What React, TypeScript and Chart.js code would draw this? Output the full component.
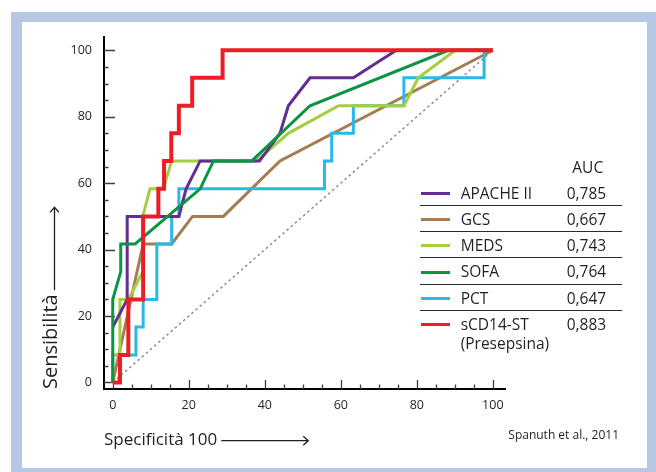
import React, { useEffect, useRef } from 'react';
import { Chart, registerables } from 'chart.js';

Chart.register(...registerables);

// ---------- data ----------
const SERIES_NAMES = ['APACHE II', 'GCS', 'MEDS', 'SOFA', 'PCT', 'sCD14-ST'];
const SERIES_SUB = ['', '', '', '', '', '(Presepsina)'];
const AUC = [0.785, 0.667, 0.743, 0.764, 0.647, 0.883];
const COLORS = ['#662d91', '#a67c52', '#a3cf3e', '#0b9444', '#29b8ea', '#ee1d25'];

const apacheX = [0, 3.8, 3.8, 17.4, 19.3, 23.0, 38.6, 44.0, 46.2, 51.9, 63.3, 74.6, 100];
const apacheY = [16.7, 25, 50, 50, 58.3, 66.7, 66.7, 75, 83.3, 91.7, 91.7, 100, 100];

const gcsX = [0, 8.0, 15.5, 21.0, 29.1, 44.0, 100];
const gcsY = [0, 41.7, 41.7, 50, 50, 66.7, 100];

const medsX = [0, 0, 1.9, 1.9, 4.1, 7.9, 7.9, 9.8, 13.3, 15.5, 37.8, 46.2, 59.4, 76.6, 80.4, 90.1, 100];
const medsY = [0, 8.3, 8.3, 25, 25, 33.3, 50, 58.3, 58.3, 66.7, 66.7, 75, 83.3, 83.3, 91.7, 100, 100];

const sofaX = [0, 0, 2.1, 2.1, 5.9, 23.0, 26.5, 36.6, 51.9, 88.3, 100];
const sofaY = [0, 25, 33.3, 41.7, 41.7, 58.3, 66.7, 66.7, 83.3, 100, 100];

const pctX = [0, 0, 6.1, 6.1, 8.0, 8.0, 11.6, 11.6, 15.5, 15.5, 17.4, 17.4, 55.7, 55.7, 57.6, 57.6, 63.3, 63.3, 76.6, 76.6, 97.7, 97.7, 100];
const pctY = [0, 8.3, 8.3, 16.7, 16.7, 25, 25, 41.7, 41.7, 50, 50, 58.3, 58.3, 66.7, 66.7, 75, 75, 83.3, 83.3, 91.7, 91.7, 100, 100];

const scdX = [0, 1.9, 1.9, 4.1, 4.1, 8.0, 8.0, 12.0, 12.0, 13.5, 13.5, 15.4, 15.4, 17.4, 17.4, 20.9, 20.9, 28.9, 28.9, 100];
const scdY = [0, 0, 8.3, 8.3, 25, 25, 50, 50, 58.3, 58.3, 66.7, 66.7, 75, 75, 83.3, 83.3, 91.7, 91.7, 100, 100];

const refX = [0, 100];
const refY = [0, 100];

const X_TICKS = [0, 20, 40, 60, 80, 100];
const Y_TICKS = [0, 20, 40, 60, 80, 100];
const MINOR_TICKS = [0, 5, 10, 15, 20, 25, 30, 35, 40, 45, 50, 55, 60, 65, 70, 75, 80, 85, 90, 95, 100];

const X_TITLE = 'Specificità 100';
const Y_TITLE = 'Sensibilità';
const AUC_TITLE = 'AUC';
const CREDIT = 'Spanuth et al., 2011';

// ---------- styles ----------
const FONT = "'Open Sans', 'Noto Sans', sans-serif";
const TEXT = '#231f20';
const W = 656;
const H = 472;
const X_TITLE_SIZE = 17;
const X_TITLE_PAD = 21.7;
const Y_TITLE_SIZE = 20;
const Y_TITLE_PAD = 39;
const SERIES_X = [apacheX, gcsX, medsX, sofaX, pctX, scdX];
const SERIES_Y = [apacheY, gcsY, medsY, sofaY, pctY, scdY];
const WIDTHS = [3, 3, 3, 3, 3, 4];
const ORDERS = [2, 5, 3, 1, 4, 0];

const zip = (xs: number[], ys: number[]) => xs.map((x, i) => ({ x, y: ys[i] }));

const axisDecor = {
  id: 'axisDecor',
  beforeDatasetsDraw(chart: any) {
    const { ctx, chartArea: a, scales } = chart;
    const x = scales.x;
    const y = scales.y;
    ctx.save();
    ctx.strokeStyle = '#3d3d3f';
    ctx.lineWidth = 1.3;
    ctx.beginPath();
    MINOR_TICKS.forEach((v) => {
      const px = Math.round(x.getPixelForValue(v)) + 0.5;
      const lx = X_TICKS.includes(v) ? 9 : 4.5;
      ctx.moveTo(px, a.bottom);
      ctx.lineTo(px, a.bottom - lx);
      const py = Math.round(y.getPixelForValue(v)) + 0.5;
      const ly = Y_TICKS.includes(v) ? 11 : 4.5;
      ctx.moveTo(a.left, py);
      ctx.lineTo(a.left + ly, py);
    });
    ctx.stroke();
    ctx.restore();
  },
  afterDraw(chart: any) {
    const { ctx, chartArea: a, scales } = chart;
    const x = scales.x;
    const y = scales.y;
    ctx.save();
    ctx.strokeStyle = TEXT;
    ctx.lineWidth = 1.3;
    // x-title arrow
    ctx.font = `${X_TITLE_SIZE}px ${FONT}`;
    const wx = ctx.measureText(X_TITLE).width;
    const ay = x.bottom - (X_TITLE_SIZE * 1.2) / 2 - X_TITLE_PAD + 0.6;
    const ax0 = a.left + wx + 4;
    const ax1 = ax0 + 87;
    ctx.beginPath();
    ctx.moveTo(ax0, ay);
    ctx.lineTo(ax1, ay);
    ctx.moveTo(ax1 - 5, ay - 4.5);
    ctx.lineTo(ax1, ay);
    ctx.lineTo(ax1 - 5, ay + 4.5);
    ctx.stroke();
    // y-title arrow
    ctx.font = `${Y_TITLE_SIZE}px ${FONT}`;
    const wy = ctx.measureText(Y_TITLE).width;
    const axx = y.left + (Y_TITLE_SIZE * 1.2) / 2 + Y_TITLE_PAD + 3.5;
    const ay0 = a.bottom - wy - 4;
    const ay1 = ay0 - 83;
    ctx.beginPath();
    ctx.moveTo(axx, ay0);
    ctx.lineTo(axx, ay1);
    ctx.moveTo(axx - 4.5, ay1 + 5);
    ctx.lineTo(axx, ay1);
    ctx.lineTo(axx + 4.5, ay1 + 5);
    ctx.stroke();
    ctx.restore();
  },
};

function Legend() {
  const size = 15.5;
  const asc = 0.888 * size;
  const base0 = 199.3;
  const rowH = 26.3;
  const txt = (s: string, left: number, baseline: number, extra: any = {}) => (
    <div
      style={{
        position: 'absolute',
        left,
        top: baseline - asc,
        fontFamily: FONT,
        fontSize: size,
        lineHeight: `${size}px`,
        color: TEXT,
        whiteSpace: 'nowrap',
        ...extra,
      }}
    >
      {s}
    </div>
  );
  return (
    <>
      {txt(AUC_TITLE, 572.3, 173.3)}
      {SERIES_NAMES.map((name, i) => {
        const b = base0 + rowH * i;
        return (
          <React.Fragment key={name}>
            <div
              style={{
                position: 'absolute',
                left: 420.7,
                top: b - 7.5,
                width: 29.3,
                height: 3,
                background: COLORS[i],
              }}
            />
            {txt(name, 460.7, b)}
            {SERIES_SUB[i] ? txt(SERIES_SUB[i], 460.7, b + 19) : null}
            {txt(AUC[i].toFixed(3).replace('.', ','), 566.7, b)}
            {i < SERIES_NAMES.length - 1 ? (
              <div
                style={{
                  position: 'absolute',
                  left: 420,
                  top: b + 5.5,
                  width: 201.7,
                  height: 1,
                  background: '#2b2b2b',
                }}
              />
            ) : null}
          </React.Fragment>
        );
      })}
    </>
  );
}

export default function App() {
  const ref = useRef<HTMLCanvasElement | null>(null);

  useEffect(() => {
    if (!ref.current) return;
    Chart.defaults.font.family = FONT;
    const datasets: any[] = SERIES_NAMES.map((name, i) => ({
      label: name,
      data: zip(SERIES_X[i], SERIES_Y[i]),
      borderColor: COLORS[i],
      backgroundColor: COLORS[i],
      borderWidth: WIDTHS[i],
      pointRadius: 0,
      showLine: true,
      fill: false,
      tension: 0,
      borderJoinStyle: 'miter',
      borderCapStyle: 'butt',
      order: ORDERS[i],
    }));
    datasets.push({
      label: 'ref',
      data: zip(refX, refY),
      borderColor: '#8c8c8c',
      borderWidth: 1.5,
      borderDash: [2.5, 3],
      pointRadius: 0,
      showLine: true,
      fill: false,
      order: 6,
    });

    const chart = new Chart(ref.current, {
      type: 'scatter',
      data: { datasets },
      options: {
        responsive: false,
        devicePixelRatio: 1,
        animation: false,
        layout: { padding: { top: 37, right: W - 505, bottom: 0, left: 0 } },
        plugins: {
          legend: { display: false },
          tooltip: { enabled: false },
        },
        scales: {
          x: {
            type: 'linear',
            min: -2.3,
            max: 103.2,
            afterBuildTicks: (s: any) => {
              s.ticks = X_TICKS.map((v) => ({ value: v }));
            },
            afterFit: (s: any) => {
              s.height = H - 389;
            },
            grid: { display: false, drawTicks: false },
            border: { display: true, color: '#000', width: 2 },
            ticks: {
              padding: 9.4,
              color: TEXT,
              font: { size: 12.5, family: FONT },
              maxRotation: 0,
              autoSkip: false,
            },
            title: {
              display: true,
              text: X_TITLE,
              align: 'start',
              color: TEXT,
              font: { size: X_TITLE_SIZE, family: FONT },
              padding: { top: 0, bottom: X_TITLE_PAD },
            },
          },
          y: {
            type: 'linear',
            min: -1.96,
            max: 104,
            afterBuildTicks: (s: any) => {
              s.ticks = Y_TICKS.map((v) => ({ value: v }));
            },
            afterFit: (s: any) => {
              s.width = 104;
            },
            grid: { display: false, drawTicks: false },
            border: { display: true, color: '#000', width: 2 },
            ticks: {
              padding: 12,
              color: TEXT,
              font: { size: 12.5, family: FONT },
              autoSkip: false,
            },
            title: {
              display: true,
              text: Y_TITLE,
              align: 'start',
              color: TEXT,
              font: { size: Y_TITLE_SIZE, family: FONT },
              padding: { top: Y_TITLE_PAD, bottom: 0 },
            },
          },
        },
      } as any,
      plugins: [axisDecor],
    });
    return () => chart.destroy();
  }, []);

  return (
    <div style={{ position: 'absolute', left: 0, top: 0, width: W, height: H, background: '#fff', overflow: 'hidden' }}>
      <div style={{ position: 'absolute', left: 11, top: 12, width: W - 11, height: H - 12, background: '#b6c7e6' }} />
      <div style={{ position: 'absolute', left: 22, top: 22, width: 625, height: 446, background: '#fff' }} />
      <canvas ref={ref} width={W} height={H} style={{ position: 'absolute', left: 0, top: 0, width: W, height: H }} />
      <Legend />
      <div
        style={{
          position: 'absolute',
          left: 508.3,
          top: 440 - 0.888 * 12,
          fontFamily: FONT,
          fontSize: 12,
          lineHeight: '12px',
          color: TEXT,
          whiteSpace: 'nowrap',
        }}
      >
        {CREDIT}
      </div>
    </div>
  );
}
